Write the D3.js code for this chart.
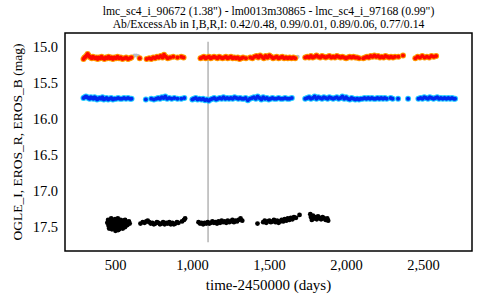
<!DOCTYPE html>
<html>
<head>
<meta charset="utf-8">
<script src="https://cdn.jsdelivr.net/npm/d3@7"></script>
<style>
  body { margin: 0; background: #fff; }
  svg text { font-family: "Liberation Serif", "DejaVu Serif", serif; fill: #000; }
</style>
</head>
<body>
<div id="vis"></div>
<script>
// chart text
var titleLines = ["lmc_sc4_i_90672 (1.38\") - lm0013m30865 - lmc_sc4_i_97168 (0.99\")",
                  "Ab/ExcessAb in I,B,R,I: 0.42/0.48, 0.99/0.01, 0.89/0.06, 0.77/0.14"];
var xLabel = "time-2450000 (days)";
var yLabel = "OGLE_I, EROS_R, EROS_B (mag)";
var xTicks = [500, 1000, 1500, 2000, 2500];
var yTicks = [15.0, 15.5, 16.0, 16.5, 17.0, 17.5];
var markerTime = 1104;

// EROS_R  [time, mag]
var erosR = [
  [295,15.17],[302,15.15],[309,15.14],[316,15.12],[322,15.10],[328,15.12],[335,15.14],[342,15.15],[349,15.16],[356,15.14],
  [363,15.15],[371,15.16],[379,15.15],[387,15.17],[395,15.15],[404,15.16],[413,15.14],[422,15.16],[431,15.17],[440,15.15],
  [449,15.16],[458,15.14],[467,15.16],[476,15.15],[486,15.17],[496,15.15],[506,15.16],[516,15.14],[526,15.16],[537,15.15],
  [548,15.17],[560,15.16],[572,15.15],[584,15.17],[596,15.16],[606,15.15],
  [660,15.16],[705,15.17],[722,15.16],[735,15.17],[748,15.15],[760,15.16],[772,15.14],[784,15.15],[796,15.13],[808,15.15],
  [818,15.11],[830,15.14],[842,15.16],[858,15.15],[878,15.14],[905,15.15],[930,15.14],[945,15.15],
  [1055,15.16],[1066,15.15],[1077,15.14],[1088,15.16],[1099,15.15],[1110,15.14],[1121,15.16],[1132,15.15],[1143,15.14],[1154,15.15],
  [1165,15.16],[1176,15.14],[1187,15.15],[1198,15.16],[1209,15.15],[1220,15.14],[1231,15.16],[1242,15.15],[1253,15.14],[1264,15.16],
  [1275,15.15],[1286,15.16],[1297,15.15],[1308,15.17],[1320,15.16],[1331,15.15],[1350,15.16],[1378,15.15],[1392,15.16],[1405,15.14],
  [1418,15.13],[1430,15.15],[1442,15.12],[1454,15.14],[1466,15.16],[1478,15.13],[1490,15.15],[1502,15.12],[1514,15.14],[1526,15.16],
  [1538,15.15],[1550,15.14],[1562,15.16],[1574,15.15],[1586,15.14],[1598,15.16],[1610,15.15],[1622,15.16],[1634,15.15],[1646,15.16],
  [1658,15.15],[1670,15.16],
  [1735,15.15],[1748,15.14],[1760,15.15],[1772,15.13],[1784,15.15],[1796,15.14],[1808,15.12],[1820,15.14],[1832,15.15],[1844,15.13],
  [1856,15.14],[1868,15.15],[1880,15.14],[1892,15.13],[1904,15.15],[1916,15.14],[1928,15.15],[1940,15.13],[1952,15.14],[1964,15.15],
  [1976,15.14],[1988,15.15],[2000,15.16],[2012,15.15],[2024,15.14],[2036,15.15],[2048,15.14],[2060,15.15],[2072,15.15],[2085,15.16],
  [2112,15.16],[2124,15.15],[2136,15.14],[2148,15.15],[2160,15.13],[2172,15.14],[2184,15.12],[2196,15.14],[2208,15.13],[2220,15.15],
  [2232,15.14],[2244,15.15],[2256,15.13],[2268,15.14],[2280,15.15],[2292,15.14],[2305,15.15],[2318,15.14],[2340,15.14],[2370,15.12],
  [2450,15.16],[2465,15.14],[2480,15.15],[2495,15.13],[2510,15.15],[2525,15.14],[2540,15.15],[2555,15.13],[2570,15.14],[2585,15.13]
];

// faint grey points lying under the red band
var erosRGrey = [[625,15.12],[638,15.12],[650,15.13],[1686,15.14]];

// EROS_B
var erosB = [
  [295,15.71],[303,15.70],[311,15.69],[319,15.70],[327,15.71],[335,15.72],[343,15.70],[351,15.71],[359,15.72],[367,15.70],
  [375,15.71],[383,15.73],[391,15.72],[400,15.71],[409,15.72],[418,15.70],[427,15.73],[436,15.72],[445,15.71],[455,15.73],
  [465,15.72],[475,15.71],[486,15.73],[497,15.72],[508,15.72],[520,15.71],[532,15.72],[545,15.72],[558,15.71],[571,15.72],
  [584,15.71],[597,15.72],[607,15.72],
  [700,15.73],[735,15.72],[752,15.73],[768,15.72],[780,15.71],[792,15.72],[804,15.70],[815,15.71],[826,15.69],[838,15.72],
  [852,15.71],[868,15.72],[885,15.71],[905,15.72],[930,15.72],[950,15.71],
  [1002,15.73],[1012,15.72],[1024,15.71],[1036,15.73],[1048,15.72],[1060,15.73],[1072,15.72],[1084,15.74],[1096,15.73],[1108,15.75],
  [1120,15.73],[1132,15.72],[1144,15.71],[1156,15.73],[1168,15.72],[1180,15.71],[1192,15.72],[1204,15.70],[1216,15.72],[1228,15.71],
  [1240,15.72],[1252,15.71],[1264,15.72],[1276,15.70],[1288,15.71],[1300,15.72],[1312,15.71],[1324,15.72],[1336,15.72],[1348,15.71],
  [1362,15.74],[1376,15.72],[1390,15.71],[1402,15.70],[1414,15.72],[1426,15.69],[1438,15.71],[1450,15.73],[1462,15.70],[1474,15.72],
  [1486,15.71],[1498,15.73],[1510,15.72],[1522,15.71],[1534,15.72],[1548,15.72],[1562,15.71],[1576,15.72],[1590,15.72],[1604,15.71],
  [1618,15.72],[1632,15.72],[1648,15.71],
  [1735,15.72],[1748,15.71],[1760,15.70],[1772,15.72],[1784,15.71],[1796,15.69],[1808,15.72],[1820,15.70],[1832,15.71],[1844,15.72],
  [1856,15.70],[1868,15.71],[1880,15.72],[1892,15.70],[1904,15.71],[1916,15.72],[1928,15.71],[1940,15.70],[1952,15.72],[1964,15.71],
  [1976,15.69],[1988,15.72],[2000,15.70],[2012,15.72],[2024,15.73],[2036,15.71],[2048,15.72],[2060,15.73],[2072,15.72],[2084,15.73],
  [2096,15.72],[2108,15.72],[2120,15.71],[2132,15.72],[2144,15.71],[2156,15.72],[2168,15.71],[2180,15.72],[2192,15.72],[2204,15.71],
  [2216,15.72],[2228,15.71],[2240,15.72],[2252,15.71],[2264,15.72],[2290,15.71],[2302,15.72],[2338,15.72],
  [2403,15.72],[2470,15.72],[2484,15.71],[2496,15.72],[2508,15.70],[2520,15.71],[2532,15.72],[2544,15.70],[2556,15.71],[2568,15.72],
  [2580,15.71],[2592,15.70],[2604,15.72],[2616,15.71],[2628,15.72],[2640,15.71],[2652,15.72],[2664,15.71],[2676,15.72],[2688,15.71],
  [2700,15.72],[2708,15.72]
];

// OGLE_I
var ogleI = [
  [450,17.44],[455,17.40],[458,17.48],[462,17.45],[466,17.42],[470,17.50],[473,17.46],[477,17.40],[480,17.53],[484,17.44],
  [487,17.48],[490,17.41],[494,17.50],[497,17.45],[500,17.39],[503,17.55],[506,17.47],[509,17.42],[512,17.51],[515,17.44],
  [518,17.38],[521,17.49],[524,17.46],[527,17.53],[530,17.42],[533,17.48],[536,17.40],[539,17.51],[542,17.45],[545,17.43],
  [548,17.49],[552,17.41],[556,17.47],[560,17.44],[564,17.50],[568,17.42],[572,17.46],[576,17.43],[580,17.47],[585,17.44],
  [590,17.42],[595,17.45],[462,17.52],[475,17.38],[492,17.46],[505,17.43],[520,17.54],[535,17.45],[550,17.52],[565,17.40],
  [665,17.45],[680,17.43],[692,17.44],[703,17.42],[712,17.41],[722,17.43],[732,17.45],[742,17.44],[752,17.46],[762,17.45],
  [772,17.43],[782,17.44],[792,17.46],[802,17.45],[812,17.43],[822,17.46],[832,17.44],[842,17.45],[852,17.43],[862,17.46],
  [872,17.44],[882,17.46],[892,17.45],[902,17.43],[912,17.44],[935,17.42],[948,17.40],[955,17.38],
  [1042,17.43],[1052,17.45],[1062,17.44],[1072,17.46],[1082,17.44],[1092,17.45],[1102,17.43],[1112,17.45],[1122,17.44],[1132,17.42],
  [1142,17.44],[1152,17.43],[1162,17.45],[1172,17.42],[1182,17.44],[1192,17.41],[1202,17.43],[1212,17.42],[1222,17.44],[1232,17.41],
  [1242,17.43],[1252,17.42],[1262,17.40],[1272,17.43],[1282,17.41],[1292,17.42],[1302,17.40],[1315,17.38],[1326,17.41],
  [1425,17.45],[1462,17.43],[1472,17.41],[1482,17.44],[1492,17.42],[1502,17.41],[1512,17.43],[1522,17.42],[1532,17.40],[1542,17.43],
  [1552,17.41],[1562,17.44],[1572,17.42],[1582,17.40],[1592,17.42],[1602,17.39],[1612,17.41],[1622,17.38],[1632,17.40],[1642,17.37],
  [1652,17.39],[1662,17.36],[1675,17.37],[1698,17.33],
  [1768,17.32],[1772,17.36],[1778,17.40],[1785,17.34],[1792,17.38],[1800,17.36],[1810,17.39],[1818,17.35],[1828,17.37],[1838,17.39],
  [1848,17.36],[1858,17.38],[1868,17.40],[1878,17.38],[1884,17.41]
];

var width = 480, height = 300;
var plotL = 65, plotR = 472, plotT = 33, plotB = 251;

var svg = d3.select("#vis").append("svg")
    .attr("width", width)
    .attr("height", height);

var x = d3.scaleLinear().domain([175, 2818]).range([plotL, plotR]);
var y = d3.scaleLinear().domain([14.81, 17.83]).range([plotT, plotB]);

// title
svg.selectAll("text.title")
    .data(titleLines)
    .enter()
    .append("text")
    .attr("class", "title")
    .attr("x", (plotL + plotR) / 2)
    .attr("y", function(d, i) { return 15 + i * 13; })
    .attr("text-anchor", "middle")
    .style("font-size", "11.7px")
    .text(function(d) { return d; });

// marker line
svg.append("line")
    .attr("x1", x(markerTime)).attr("x2", x(markerTime))
    .attr("y1", y(14.93)).attr("y2", y(17.71))
    .attr("stroke", "#b4b4b4")
    .attr("stroke-width", 1.5);

function drawSeries(data, halo, core, r, hr) {
    var g = svg.append("g");
    if (halo) {
        g.selectAll("circle.h")
            .data(data).enter().append("circle")
            .attr("class", "h")
            .attr("cx", function(d) { return x(d[0]); })
            .attr("cy", function(d) { return y(d[1]); })
            .attr("r", hr)
            .attr("fill", halo);
    }
    g.selectAll("circle.c")
        .data(data).enter().append("circle")
        .attr("class", "c")
        .attr("cx", function(d) { return x(d[0]); })
        .attr("cy", function(d) { return y(d[1]); })
        .attr("r", r)
        .attr("fill", core);
}

drawSeries(erosRGrey, null, "#b8bccc", 2, 0);
drawSeries(erosR, "#ff9a00", "#ff0800", 2, 3);
drawSeries(erosB, "#22ccff", "#0028f0", 2, 3);
drawSeries(ogleI, null, "#000", 2.4, 0);

// frame
svg.append("rect")
    .attr("x", plotL).attr("y", plotT)
    .attr("width", plotR - plotL).attr("height", plotB - plotT)
    .attr("fill", "none")
    .attr("stroke", "#000")
    .attr("stroke-width", 1.5);

var xAxis = d3.axisBottom(x).tickValues(xTicks).tickSize(0).tickPadding(9).tickFormat(d3.format(","));
svg.append("g")
    .attr("transform", "translate(0," + plotB + ")")
    .call(xAxis)
    .call(function(g) { g.select(".domain").remove(); });

var yAxis = d3.axisLeft(y).tickValues(yTicks).tickSize(0).tickPadding(7).tickFormat(d3.format(".1f"));
svg.append("g")
    .attr("transform", "translate(" + plotL + ",0)")
    .call(yAxis)
    .call(function(g) { g.select(".domain").remove(); });

svg.selectAll(".tick text").attr("font-family", null).attr("font-size", null).style("font-size", "14.5px");

svg.append("text")
    .attr("x", (plotL + plotR) / 2)
    .attr("y", 290)
    .attr("text-anchor", "middle")
    .style("font-size", "15px")
    .text(xLabel);

svg.append("text")
    .attr("transform", "translate(22," + (plotT + plotB) / 2 + ") rotate(-90)")
    .attr("text-anchor", "middle")
    .style("font-size", "13.5px")
    .text(yLabel);
</script>
</body>
</html>
